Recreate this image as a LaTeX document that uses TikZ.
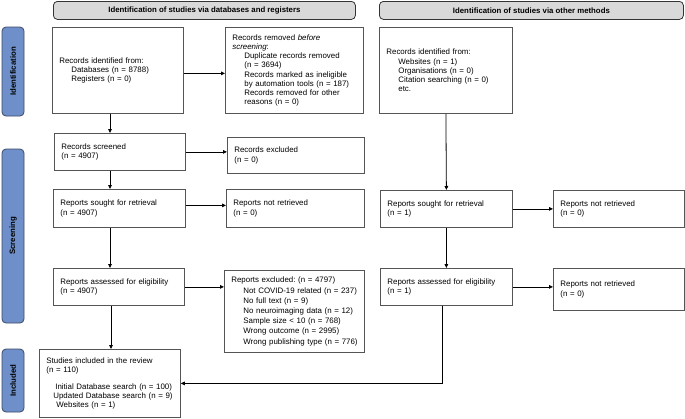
\documentclass[tikz,border=0pt]{standalone}
\usepackage{fontspec}
\setmainfont{Liberation Sans}
\frenchspacing
\usetikzlibrary{arrows.meta,calc,positioning}
\definecolor{barblue}{HTML}{6E8FC9}
\definecolor{barline}{HTML}{3C4A66}
\definecolor{headgray}{HTML}{D9D9D9}
\definecolor{boxline}{HTML}{555555}
\newcommand\tabin{\hspace*{12pt}}
\tikzset{pin/.style={-{Triangle[length=4pt,width=3.6pt]}, line width=0.8pt},
  rec/.style 2 args={draw=boxline, line width=0.8pt, anchor=north west, text width=#1pt,
    minimum height=#2pt, inner xsep=7pt, inner ysep=2pt, align=left,
    font=\fontsize{7.9}{9.2}\selectfont},
  head/.style={draw=black!80, fill=headgray, line width=0.8pt, rounded corners=4pt,
    anchor=north west, minimum width=#1pt, minimum height=18pt, inner sep=0pt,
    font=\fontsize{7.8}{9}\selectfont\bfseries},
  phase/.style={draw=barline, fill=barblue, line width=0.8pt, rounded corners=4pt,
    rotate=90, minimum width=#1pt, minimum height=22pt, inner sep=0pt,
    font=\fontsize{7.8}{9}\selectfont\bfseries}}

\begin{document}
\begin{tikzpicture}[x=1pt, y=1pt]
  \useasboundingbox (0,0) rectangle (685,-418);
  % headers and phases
  \node[head=302] (hdb) at (53,-1) {Identification of studies via databases and registers};
  \node[head=304] (hoth) at (379,-1) {Identification of studies via other methods};
  \node[phase=89] (pid) at (13,-71.5) {Identification};
  \node[phase=174] (pscr) at (13,-236) {Screening};
  \node[phase=63] (pinc) at (13,-380.5) {Included};
  % databases and registers
  \node[rec={117}{86}] (id) at (52,-27) {Records identified from:\\
    \tabin Databases (n = 8788)\\ \tabin Registers (n = 0)};
  \node[rec={124}{86}] (rm) at (225,-27) {Records removed \textit{before}\\ \textit{screening}:\\
    \tabin Duplicate records removed\\ \tabin (n = 3694)\\
    \tabin Records marked as ineligible\\ \tabin \mbox{by automation tools (n = 187)}\\
    \tabin Records removed for other\\ \tabin reasons (n = 0)};
  \node[rec={117}{37}] (scr) at (54,-133) {Records screened\\ (n = 4907)};
  \node[rec={123}{36}] (exc) at (227,-137) {Records excluded\\ (n = 0)};
  \node[rec={118}{38}] (sought) at (53,-189) {Reports sought for retrieval\\ (n = 4907)};
  \node[rec={124}{38}] (nret) at (226,-189) {Reports not retrieved\\ (n = 0)};
  \node[rec={117}{37}] (elig) at (53,-268) {Reports assessed for eligibility\\ (n = 4907)};
  \node[rec={126}{82}, inner ysep=0pt, font=\fontsize{7.9}{10.2}\selectfont] (rexc) at (224,-270)
    {Reports excluded: (n = 4797)\\
    \tabin \mbox{Not COVID-19 related (n = 237)}\\ \tabin No full text (n = 9)\\
    \tabin No neuroimaging data (n = 12)\\ \tabin Sample size < 10 (n = 768)\\
    \tabin Wrong outcome (n = 2995)\\ \tabin \mbox{Wrong publishing type (n = 776)}\par\vspace{9pt}};
  \node[rec={127}{68}] (incl) at (39,-349) {Studies included in the review\\ (n = 110)\\[8pt]
    \hspace*{9pt}\mbox{Initial Database search (n = 100)}\\
    \hspace*{7pt}Updated Database search (n = 9)\\
    \hspace*{10pt}Websites (n = 1)};
  % other methods
  \node[rec={119}{86}] (oid) at (379,-27) {Records identified from:\\
    \tabin Websites (n = 1)\\ \tabin Organisations (n = 0)\\
    \tabin Citation searching (n = 0)\\ \tabin etc.};
  \node[rec={118}{37}] (osought) at (380,-190) {Reports sought for retrieval\\ (n = 1)};
  \node[rec={117}{37}] (onret) at (553,-190) {Reports not retrieved\\ (n = 0)};
  \node[rec={118}{37}] (oelig) at (380,-268) {Reports assessed for eligibility\\ (n = 1)};
  \node[rec={117}{42}] (onret2) at (553,-268) {Reports not retrieved\\ (n = 0)};
  % arrows
  \coordinate (ax) at (110,0);
  \draw[pin] ([yshift=-3pt]id.east) -- ([yshift=-3pt]id.east -| rm.west);
  \draw[pin] (id.south -| ax) -- (scr.north -| ax);
  \draw[pin] (scr.east) -- (scr.east -| exc.west);
  \draw[pin] (scr.south -| ax) -- (sought.north -| ax);
  \draw[pin] ([yshift=3pt]sought.east) -- ([yshift=3pt]sought.east -| nret.west);
  \draw[pin] (sought.south -| ax) -- (elig.north -| ax);
  \draw[pin] (elig.east) -- (elig.east -| rexc.west);
  \draw[pin] ([xshift=1pt]elig.south -| ax) -- ([xshift=1pt]incl.north -| ax);
  \draw[pin] (oid.south) -- (osought.north);
  \draw[pin] (osought.east) -- (osought.east -| onret.west);
  \draw[pin] (osought.south) -- (oelig.north);
  \draw[pin] (oelig.east) -- (oelig.east -| onret2.west);
  \draw[pin] ([xshift=-4pt]oelig.south) |- (incl.east);
\end{tikzpicture}
\end{document}
